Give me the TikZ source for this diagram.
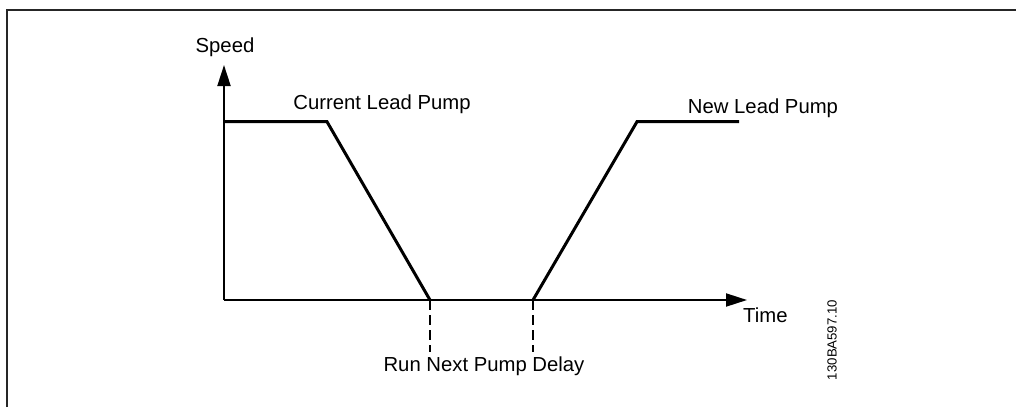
\documentclass[tikz,border=0pt]{standalone}
\usepackage{fontspec}
\setmainfont{Liberation Sans}
\usetikzlibrary{arrows.meta}
\begin{document}
\begin{tikzpicture}[x=1pt,y=-1pt,
  axisline/.style={line width=2pt,-{Triangle[length=21pt,width=13pt]}},
  curveline/.style={line width=3pt,line join=miter},
  dashline/.style={line width=2pt,dash pattern=on 10pt off 5pt},
  lbl/.style={inner sep=0pt,font=\fontsize{20.3}{24}\selectfont},
  codelbl/.style={inner sep=0pt,font=\fontsize{13.2}{16}\selectfont,rotate=90}]
\useasboundingbox (0,0) rectangle (1016,407);
% frame
\coordinate (fbl) at (7,407);
\coordinate (ftl) at (7,10);
\coordinate (ftr) at (1016,10);
\draw[line width=1.8pt,black!85] (fbl) -- (ftl) -- (ftr);
% coordinates
\coordinate (O) at (224,300);
\coordinate (ytop) at (224,65);
\coordinate (xend) at (747,300);
\coordinate (p1) at (224,121.7);
\coordinate (p2) at (327,121.7);
\coordinate (p3) at (430,300);
\coordinate (p4) at (533,300);
\coordinate (p5) at (637,121.7);
\coordinate (p6) at (739,121.7);
\coordinate (d1) at (430,352);
\coordinate (d2) at (533,352);
% axes
\draw[axisline] (O) -- (ytop);
\draw[axisline] (O) -- (xend);
% curves
\draw[curveline] (p1) -- (p2) -- (p3);
\draw[curveline] (p4) -- (p5) -- (p6);
% dashed markers
\draw[dashline] (p3) -- (d1);
\draw[dashline] (p4) -- (d2);
% labels
\node[lbl,anchor=base] (speed) at (225,52.5) {Speed};
\node[lbl,anchor=base] (cur) at (382,109.5) {Current Lead Pump};
\node[lbl,anchor=base] (new) at (763,113) {New Lead Pump};
\node[lbl,anchor=base west] (time) at (743,322.5) {Time};
\node[lbl,anchor=base] (delay) at (484,371.5) {Run Next Pump Delay};
\node[codelbl] (code) at (832,340) {130BA597.10};
\end{tikzpicture}
\end{document}
